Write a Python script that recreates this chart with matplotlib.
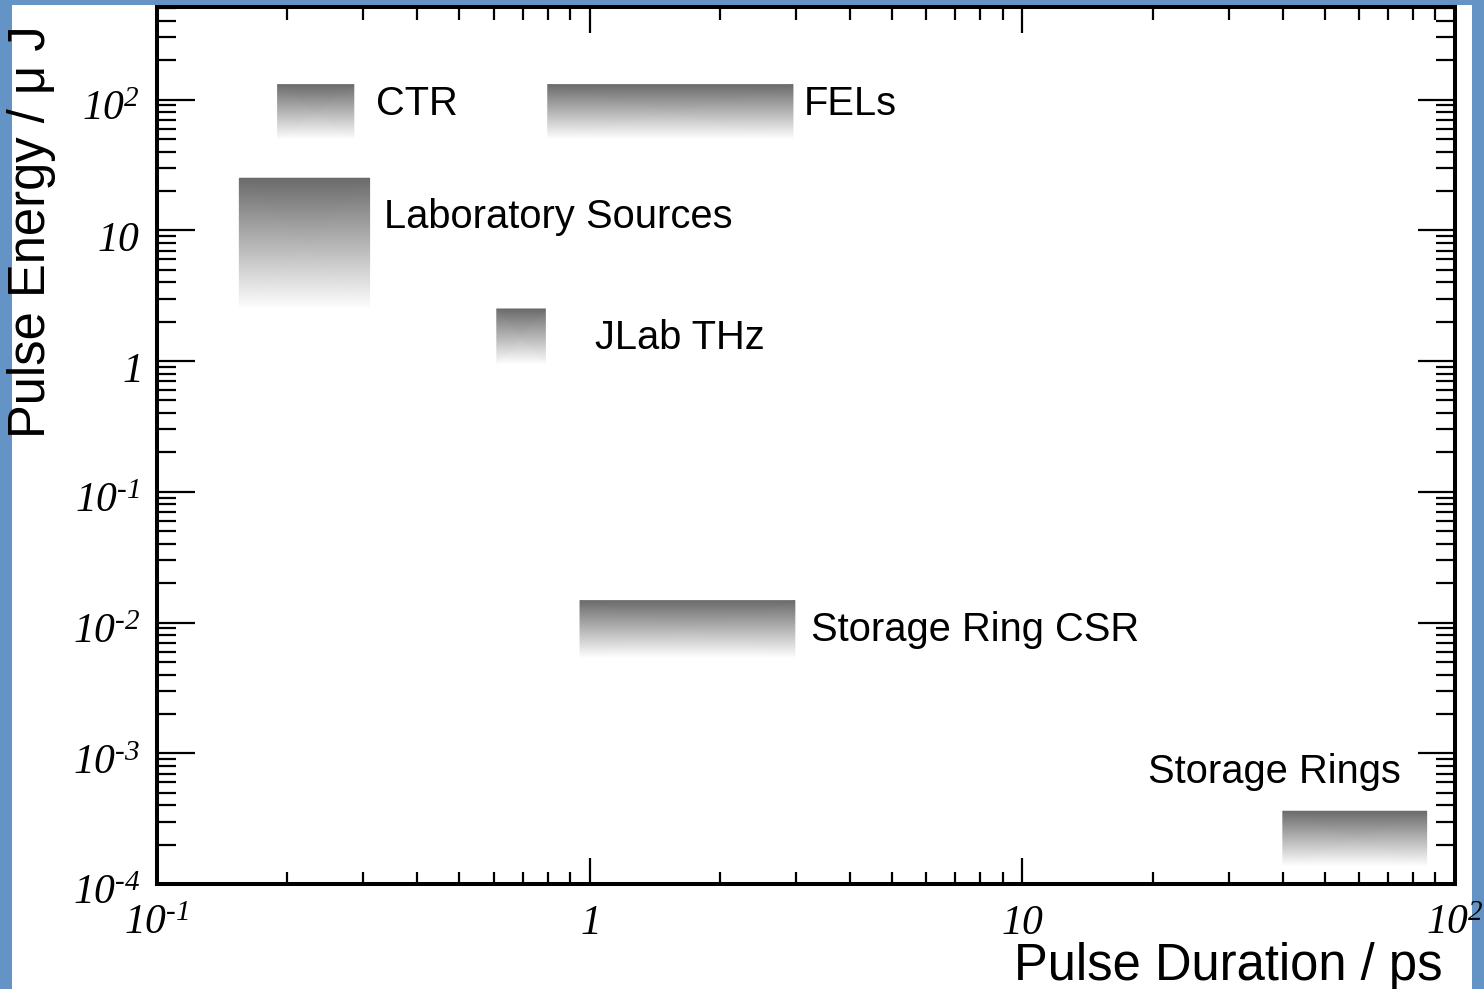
#!/usr/bin/env python3
"""THz source comparison: pulse energy vs pulse duration, ROOT-style log-log."""

import matplotlib
matplotlib.use("Agg")
import matplotlib.pyplot as plt
import numpy as np
from matplotlib.colors import LinearSegmentedColormap
from matplotlib.patches import Rectangle
from matplotlib.transforms import ScaledTranslation
from matplotlib.ticker import FixedLocator, FuncFormatter, NullFormatter

# source regions: duration range (ps) and pulse energy range (uJ)
names = ["CTR", "FELs", "Laboratory Sources", "JLab THz", "Storage Ring CSR", "Storage Rings"]
t_lo = [0.19, 0.8, 0.155, 0.61, 0.95, 40.0]
t_hi = [0.285, 2.95, 0.31, 0.79, 2.98, 86.0]
e_lo = [50.0, 50.0, 2.5, 0.95, 0.0054, 1.38e-4]
e_hi = [130.0, 130.0, 25.0, 2.5, 0.0147, 3.6e-4]

# label anchor points (left edge, vertical centre)
lab_t = [0.32, 3.13, 0.334, 1.03, 3.25, 19.5]
lab_e = [93.0, 93.0, 12.6, 1.49, 0.0087, 7.2e-4]

x_range = (0.1, 100.0)
y_range = (1e-4, 510.0)
x_decades = [-1, 0, 1, 2]
y_decades = [-4, -3, -2, -1, 0, 1, 2]

BLUE = "#6494c6"
W, H, DPI = 1484, 989, 100

plt.rcParams["font.family"] = ["Liberation Sans", "DejaVu Sans"]
# ROOT-like italic serif tick numbers
plt.rcParams["mathtext.fontset"] = "custom"
plt.rcParams["mathtext.rm"] = "Liberation Serif:italic"
plt.rcParams["mathtext.it"] = "Liberation Serif:italic"

fig = plt.figure(figsize=(W / DPI, H / DPI), dpi=DPI, facecolor=BLUE)
# white canvas inside the blue frame
fig.patches.append(Rectangle((12 / W, 0), (1472 - 12) / W, 1 - 5 / H,
                             transform=fig.transFigure, facecolor="white",
                             edgecolor="none", zorder=-5))

ax = fig.add_axes([157 / W, 1 - 884 / H, (1455 - 157) / W, (884 - 7) / H])
ax.set_zorder(2)
ax.set_xscale("log")
ax.set_yscale("log")
ax.set_xlim(*x_range)
ax.set_ylim(*y_range)

grad = LinearSegmentedColormap.from_list("fade", ["#ffffff", "#6a6a6a"])
for x0, x1, y0, y1 in zip(t_lo, t_hi, e_lo, e_hi):
    xx, yy = np.meshgrid([x0, x1], [y0, y1])
    ax.pcolormesh(xx, yy, np.array([[0.0, 0.0], [1.0, 1.0]]), cmap=grad,
                  vmin=0, vmax=1, shading="gouraud", zorder=1)

for name, x, y in zip(names, lab_t, lab_e):
    ax.text(x, y, name, fontsize=28.7, ha="left", va="center", zorder=3)


def sci_label(v, pos):
    k = int(round(np.log10(v)))
    if k == 0:
        return "$1$"
    if k == 1:
        return "$10$"
    if k < 0:
        return r"$10^{\text{-}%d}$" % (-k)
    return "$10^{%d}$" % k


def minor_ticks(decades, lo, hi):
    vals = [m * 10.0 ** d for d in range(decades[0] - 1, decades[-1] + 1) for m in range(2, 10)]
    return [v for v in vals if lo < v < hi]


ax.xaxis.set_major_locator(FixedLocator([10.0 ** d for d in x_decades]))
ax.yaxis.set_major_locator(FixedLocator([10.0 ** d for d in y_decades]))
ax.xaxis.set_minor_locator(FixedLocator(minor_ticks(x_decades, *x_range)))
ax.yaxis.set_minor_locator(FixedLocator(minor_ticks(y_decades, *y_range)))
for axis in (ax.xaxis, ax.yaxis):
    axis.set_major_formatter(FuncFormatter(sci_label))
    axis.set_minor_formatter(NullFormatter())

ax.tick_params(which="both", direction="in", top=True, right=True, width=1.6, colors="black")
ax.tick_params(axis="x", which="major", length=19, labelsize=30, pad=14)
ax.tick_params(axis="x", which="minor", length=9)
ax.tick_params(axis="y", which="major", length=27, labelsize=30, pad=12)
ax.tick_params(axis="y", which="minor", length=14)
for s in ax.spines.values():
    s.set_linewidth(2.9)
ax.set_facecolor("white")

# ROOT places the y numbers slightly below their ticks
shift = ScaledTranslation(0, -5 / DPI, fig.dpi_scale_trans)
for lab in ax.get_yticklabels():
    lab.set_transform(lab.get_transform() + shift)

fig.text(1443 / W, 1 - 980 / H, "Pulse Duration / ps", fontsize=36.5, ha="right", va="baseline")
fig.text(32 / W, 1 - 25 / H, "Pulse Energy / μ J", fontsize=36.5, rotation=90, ha="center", va="top")

fig.savefig("out.png", dpi=DPI, facecolor=BLUE)
